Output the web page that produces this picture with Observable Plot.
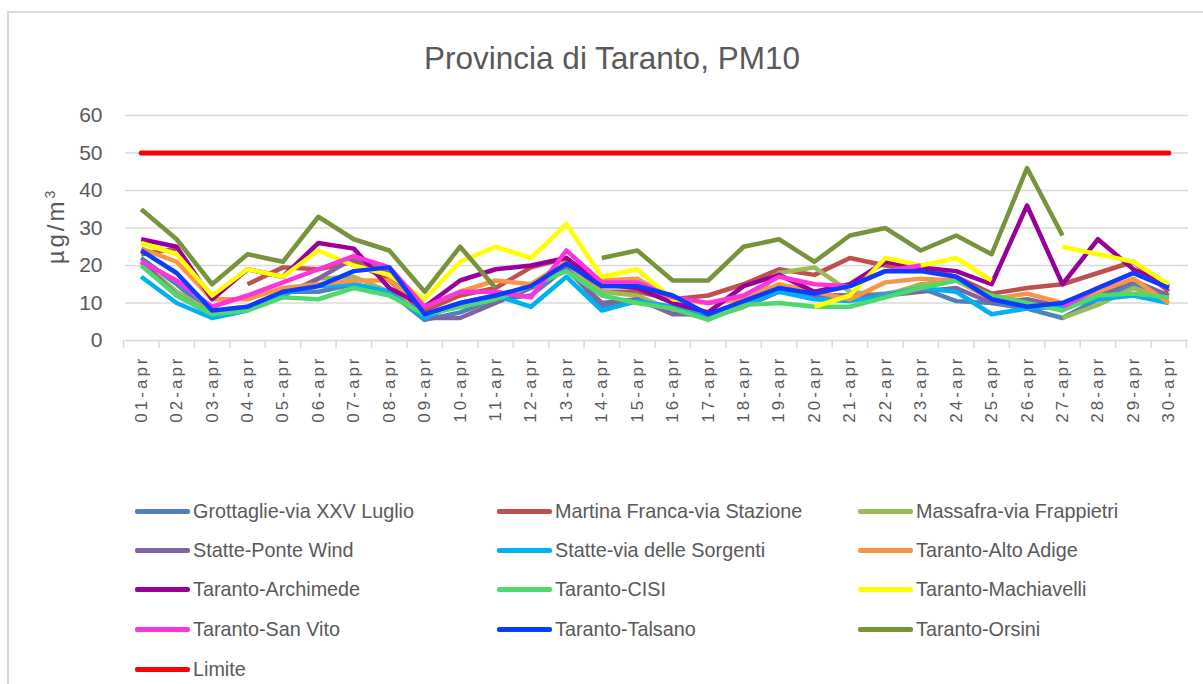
<!DOCTYPE html>
<html>
<head>
<meta charset="utf-8">
<script src="https://cdn.jsdelivr.net/npm/d3@7"></script>
<script src="https://cdn.jsdelivr.net/npm/@observablehq/plot@0.6"></script>
<style>
  body { margin: 0; background: #fff; font-family: "Liberation Sans", Arial, sans-serif; }
  #wrap { position: relative; width: 1203px; height: 684px; overflow: hidden; background: #fff; }
  #frame { position: absolute; left: 7px; top: 11px; width: 1230px; height: 720px; border: 2px solid #d9d9d9; box-sizing: border-box; }
  #title { position: absolute; left: 0; width: 1224px; top: 43px; text-align: center; font-size: 31.5px; line-height: 31px; color: #595959; }
  #ylabel { position: absolute; left: 56px; top: 226px; transform: translate(-50%, -50%) rotate(-90deg); font-size: 24px; letter-spacing: 3px; color: #595959; white-space: nowrap; }
  #ylabel sup { font-size: 14px; }
  #chart { position: absolute; left: 0; top: 100px; }
  #chart g[aria-label="x-axis tick label"] text { letter-spacing: 3px; }
  .leg { position: absolute; height: 24px; display: flex; align-items: center; font-size: 19.8px; color: #595959; white-space: nowrap; }
  .leg .sw { width: 55px; height: 5px; border-radius: 2px; margin-right: 3px; }
</style>
</head>
<body>
<div id="wrap">
  <div id="frame"></div>
  <div id="title"></div>
  <div id="ylabel">µg/m<sup>3</sup></div>
  <div id="chart"></div>
  <div id="legend"></div>
</div>
<script>
const title = "Provincia di Taranto, PM10";
const days = ["01-apr","02-apr","03-apr","04-apr","05-apr","06-apr","07-apr","08-apr","09-apr","10-apr",
  "11-apr","12-apr","13-apr","14-apr","15-apr","16-apr","17-apr","18-apr","19-apr","20-apr",
  "21-apr","22-apr","23-apr","24-apr","25-apr","26-apr","27-apr","28-apr","29-apr","30-apr"];
const yTicks = [0, 10, 20, 30, 40, 50, 60];

const seriesNames = ["Grottaglie-via XXV Luglio","Martina Franca-via Stazione","Massafra-via Frappietri",
  "Statte-Ponte Wind","Statte-via delle Sorgenti","Taranto-Alto Adige",
  "Taranto-Archimede","Taranto-CISI","Taranto-Machiavelli",
  "Taranto-San Vito","Taranto-Talsano","Taranto-Orsini","Limite"];
const seriesColors = ["#4f81bd","#c0504d","#9bbb59","#8064a2","#00b0f0","#f79646",
  "#990099","#4fd96a","#ffff00","#ff33dd","#0a3cff","#77933c","#ff0000"];

const grottaglie  = [22,15,7,9,13,13,15,13,5.5,7.5,11,12,19.5,9,11,8,6,9,13,12,12,12.5,14,10.5,10,8.5,6,11,15,12];
const martina     = [23,24.5,null,15,19.5,19,21,16,8,12,14,19.5,22,13,13,11,12,15,19,17.5,22,20,19.5,17,12.5,14,15,18,21,13];
const massafra    = [21,13,7.5,9,12,16.5,17,13,7,9,11,15,19,13,12,8,6,9,18,19.5,13,12,15,16,null,null,6,9.5,14,11];
const ponteWind   = [21,12,7,8.5,12,16.5,22,18,6,6,10,14,19,10,11,7,7,10,14,12,12,12,13,14,10,11,9,12,16,12];
const sorgenti    = [17,10,6,8,12.5,14.5,15,13,6,10,12,9,17,8,10.5,9,7,10,13,11,10.5,12,14,13,7,8.5,9,11,12,10];
const altoAdige   = [24.5,21,11,11,14,15,16,16,9,13,16,15,21,16,16.5,11,10,11,15,13,11,15.5,16.5,16,11,12.5,10,13,16.5,10];
const archimede   = [27,25,11,19,17,26,24.5,14,9,16,19,20,22,15,14,10,7.5,14.5,17.5,13,15,21,19.5,18.5,15,36,15,27,19,14.5];
const cisi        = [20,12,7,8,11.5,11,14,12,7,9,11,14.5,18.5,12,10,8.5,5.5,9.5,10,9,9,11.5,14,16,12,10,8,12,12.5,11.5];
const machiavelli = [26,23,12,19,17,24,20,17.5,11,21,25,22,31,17,19,11,10,null,null,9,12,22,20,22,16,null,25,23,21,15];
const sanVito     = [21,16,9,12,15.5,19,22.5,19.5,9,13,13,11.5,24,15.5,15.5,11.5,10,12,17,15,14.5,18.5,20,null,null,null,9,14,18,14];
const talsano     = [24,18,8,9,13,14.5,18.5,19.5,7,10,12,14.5,20.5,14.5,14.5,12,7,10.5,14,12.5,14.5,18.5,18.5,17,11,9,10,14,18,14];
const orsini      = [35,27,15,23,21,33,27,24,13,25,14,null,null,22,24,16,16,25,27,21,28,30,24,28,23,46,28,null,null,null];
const limite      = [50,50,50,50,50,50,50,50,50,50,50,50,50,50,50,50,50,50,50,50,50,50,50,50,50,50,50,50,50,50];

const seriesValues = [grottaglie, martina, massafra, ponteWind, sorgenti, altoAdige,
  archimede, cisi, machiavelli, sanVito, talsano, orsini, limite];

const rows = [];
seriesNames.forEach((name, s) => {
  seriesValues[s].forEach((v, i) => rows.push({series: name, day: i + 1, value: v}));
});
const stationRows = rows.filter(d => d.series !== "Limite");
const limitRows = rows.filter(d => d.series === "Limite");
const dayIdx = days.map((d, i) => i + 1);
const boundaries = [0, ...dayIdx].map(i => i + 0.5);

document.getElementById("title").textContent = title;

const chart = Plot.plot({
  width: 1203,
  height: 340,
  marginLeft: 123,
  marginRight: 17,
  marginTop: 15,
  marginBottom: 100,
  style: {fontFamily: "Liberation Sans, Arial, sans-serif", color: "#595959", background: "transparent", overflow: "visible"},
  x: {domain: [0.5, 30.5], label: null},
  y: {domain: [0, 60], label: null},
  color: {domain: seriesNames, range: seriesColors},
  marks: [
    Plot.ruleY(yTicks, {stroke: "#d9d9d9", strokeWidth: 1.5, dx: 2}),
    Plot.axisY({ticks: yTicks, tickSize: 0, tickPadding: 21, fontSize: 21, fill: "#595959", label: null}),
    Plot.axisX({ticks: boundaries, tickSize: 8, tickFormat: () => "", stroke: "#d9d9d9", strokeWidth: 1.5, label: null}),
    Plot.axisX({ticks: dayIdx, tickSize: 0, tickPadding: 15, tickRotate: -90, fontSize: 17, fill: "#595959",
      tickFormat: i => days[i - 1], label: null}),
    Plot.line(stationRows, {x: "day", y: "value", z: "series", stroke: "series", strokeWidth: 4.5,
      strokeLinejoin: "round", strokeLinecap: "butt"}),
    Plot.line(limitRows, {x: "day", y: "value", stroke: "series", strokeWidth: 5})
  ]
});
document.getElementById("chart").appendChild(chart);

// legend
const legend = document.getElementById("legend");
const colX = [135, 497, 858];
const rowY = [511, 550, 589, 629, 669];
seriesNames.forEach((name, i) => {
  const el = document.createElement("div");
  el.className = "leg";
  el.style.left = colX[i % 3] + "px";
  el.style.top = (rowY[Math.floor(i / 3)] - 12) + "px";
  const sw = document.createElement("span");
  sw.className = "sw";
  sw.style.background = seriesColors[i];
  const tx = document.createElement("span");
  tx.textContent = name;
  el.appendChild(sw);
  el.appendChild(tx);
  legend.appendChild(el);
});
</script>
</body>
</html>
